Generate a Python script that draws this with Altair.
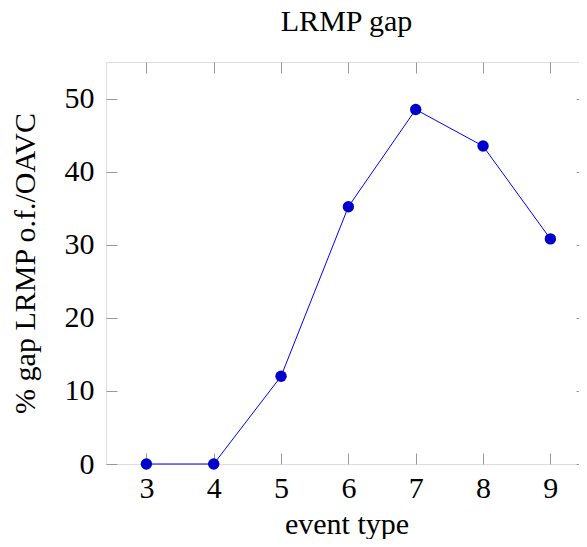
import altair as alt
import pandas as pd

event_type = [3, 4, 5, 6, 7, 8, 9]
gap_pct = [0, 0, 12.0, 35.2, 48.5, 43.5, 30.8]
x_ticks = [3, 4, 5, 6, 7, 8, 9]
y_ticks = [0, 10, 20, 30, 40, 50]

df = pd.DataFrame({"event": event_type, "gap": gap_pct})

FONT = "Liberation Serif"
FS = 30
TICK_COL = "#999999"

xscale = alt.Scale(domain=[2.4, 9.544], nice=False, zero=False)
yscale = alt.Scale(domain=[0, 55], nice=False, zero=False)

main_x = alt.Axis(orient="bottom", values=x_ticks, title="event type", ticks=False, tickSize=0,
                  domain=False, grid=False, labelFont=FONT, labelFontSize=FS, labelColor="black",
                  labelBaseline="alphabetic", labelPadding=33, labelFlush=False,
                  titleFont=FONT, titleFontSize=FS, titleFontWeight="normal", titleColor="black",
                  titleBaseline="alphabetic", titlePadding=30)
main_y = alt.Axis(orient="left", values=y_ticks, title="% gap LRMP o.f./OAVC", ticks=False, tickSize=0,
                  domain=False, grid=False, labelFont=FONT, labelFontSize=FS, labelColor="black",
                  labelPadding=12, labelFlush=False,
                  titleFont=FONT, titleFontSize=FS, titleFontWeight="normal", titleColor="black",
                  titlePadding=24)

tick_bottom = alt.Axis(orient="bottom", values=x_ticks, title=None, labels=False, domain=False, grid=False,
                       ticks=True, tickSize=11, offset=-11, tickColor=TICK_COL, tickWidth=1)
tick_left = alt.Axis(orient="left", values=y_ticks, title=None, labels=False, domain=False, grid=False,
                     ticks=True, tickSize=11, offset=-11, tickColor=TICK_COL, tickWidth=1)
tick_top = alt.Axis(orient="top", values=x_ticks, title=None, labels=False, domain=False, grid=False,
                    ticks=True, tickSize=11, offset=-11, tickColor=TICK_COL, tickWidth=1)
tick_right = alt.Axis(orient="right", values=y_ticks, title=None, labels=False, domain=False, grid=False,
                      ticks=True, tickSize=11, offset=-11, tickColor=TICK_COL, tickWidth=1)

base = alt.Chart(df)

line = base.mark_line(color="#0000ff", strokeWidth=1).encode(
    x=alt.X("event:Q", scale=xscale, axis=main_x),
    y=alt.Y("gap:Q", scale=yscale, axis=main_y),
)
pts = base.mark_circle(size=130, color="#0000cc", opacity=1).encode(
    x=alt.X("event:Q", scale=xscale, axis=None),
    y=alt.Y("gap:Q", scale=yscale, axis=None),
)
ticks1 = base.mark_point(opacity=0).encode(
    x=alt.X("event:Q", scale=xscale, axis=tick_bottom),
    y=alt.Y("gap:Q", scale=yscale, axis=tick_left),
)
ticks2 = base.mark_point(opacity=0).encode(
    x=alt.X("event:Q", scale=xscale, axis=tick_top),
    y=alt.Y("gap:Q", scale=yscale, axis=tick_right),
)

chart = alt.layer(ticks1, ticks2, line, pts).resolve_axis(
    x="independent", y="independent"
).properties(
    width=481,
    height=402,
    title=alt.TitleParams("LRMP gap", font=FONT, fontSize=FS, fontWeight="normal", color="black",
                          anchor="middle", offset=25),
    autosize=alt.AutoSizeParams(type="none"),
    padding={"left": 98, "top": 54, "right": -8, "bottom": 75},
).configure_view(stroke="black", strokeWidth=1).configure(background="white")

chart.save("out.html", embed_options={"renderer": "svg", "actions": False})
